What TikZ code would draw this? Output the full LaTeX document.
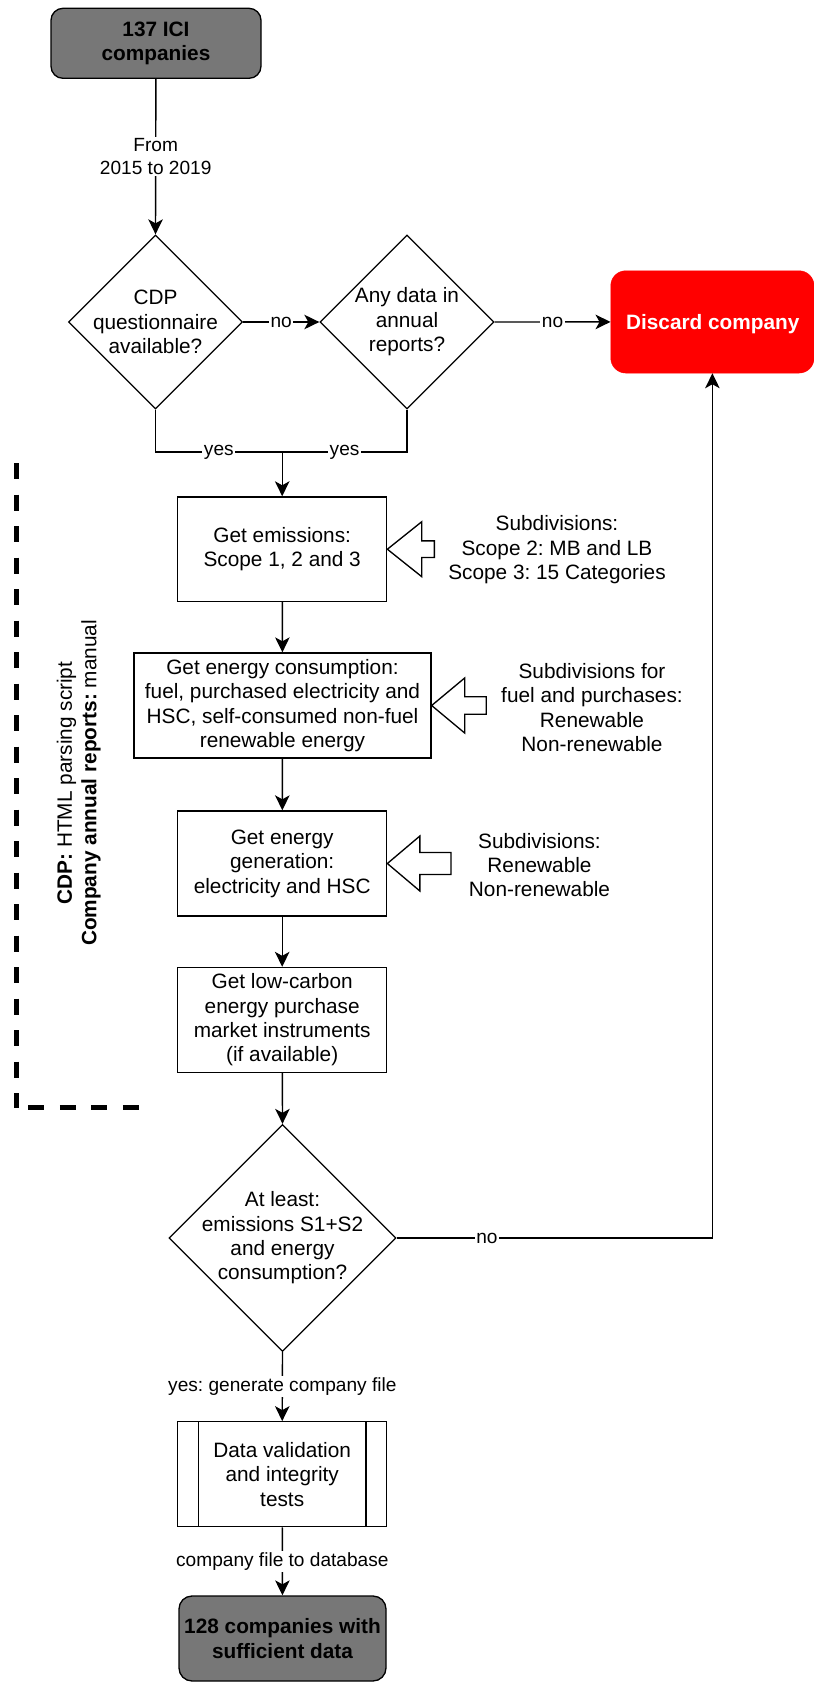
\documentclass[tikz,border=0pt]{standalone}
\usepackage{fontspec}
\setmainfont{Liberation Sans}
\usetikzlibrary{shapes.geometric,arrows.meta,calc}

\definecolor{termgray}{HTML}{777777}
\definecolor{discardred}{HTML}{FF0000}

\newcommand{\boxfont}{\fontsize{20.8pt}{24.4pt}\selectfont}
\newcommand{\edgefont}{\fontsize{19.1pt}{22.6pt}\selectfont}
\frenchspacing

% hollow block arrow pointing left at #1; #2 head length, #3 shaft length, #4 half shaft height
\newcommand{\hollowarrow}[4]{%
  \draw[hollow] (#1) -- ++(#2,-27.5) -- ++(0,{27.5-#4}) -- ++(#3,0)
    -- ++(0,{2*#4}) -- ++(-#3,0) -- ++(0,{27.5-#4}) -- cycle;}

\begin{document}
\begin{tikzpicture}[x=1pt,y=-1pt,
  every node/.style={font=\boxfont},
  line/.style={line width=1.4pt},
  flow/.style={line, -{Stealth[length=15pt,width=14.5pt,inset=4pt]}},
  process/.style={draw, line width=1.33pt, rectangle, minimum width=209pt,
    minimum height=104.5pt, inner sep=2pt, align=center},
  decision/.style={draw, line width=1.33pt, diamond, minimum width=174pt,
    minimum height=174pt, inner sep=0pt},
  terminal/.style={draw, line width=1.33pt, fill=termgray, rounded corners=12pt,
    font=\boxfont\bfseries, align=center, inner sep=0pt},
  edgelabel/.style={fill=white, font=\edgefont, inner sep=1.5pt, align=center},
  note/.style={align=center},
  hollow/.style={draw, line width=1.33pt, fill=white, line join=miter},
  bracket/.style={line width=4.5pt, dash pattern=on 16pt off 15.5pt}
]
\useasboundingbox (0,0) rectangle (814,1682);

% start and end terminals
\node[terminal, minimum width=210pt, minimum height=70pt] (start) at (156,43.3)
  {137 ICI\\companies};
\node[terminal, rounded corners=13pt, minimum width=207pt, minimum height=85pt] (final)
  at (282.5,1638.5) {128 companies with\\sufficient data};

% source decisions
\node[decision, label={[align=center]center:{CDP\\questionnaire\\available?}}]
  (cdp) at (155.5,322) {};
\node[decision, label={[align=center]center:{Any data in\\annual\\reports?}}]
  (annual) at (407,322) {};

% discard
\node[draw=discardred, fill=discardred, rounded corners=15pt, text=white,
  font=\boxfont\bfseries, minimum width=203.3pt, minimum height=102.3pt, inner sep=0pt]
  (discard) at (712.4,321.9) {};
\node[text=white, font=\boxfont\bfseries] (discardtext) at (712.8,324) {Discard company};

% extraction steps
\node[process] (emis) at (282.2,549.2) {Get emissions:\\Scope 1, 2 and 3};
\node[process, minimum width=297pt, minimum height=105pt] (cons) at (282.5,705.5)
  {Get energy consumption:\\fuel, purchased electricity and\\HSC, self-consumed non-fuel\\renewable energy};
\node[process, minimum height=105pt] (gen) at (282.2,863.5)
  {Get energy\\generation:\\electricity and HSC};
\node[process, minimum height=105pt] (instr) at (282.2,1020)
  {Get low-carbon\\energy purchase\\market instruments\\(if available)};

% sufficiency check
\node[decision, minimum width=227pt, minimum height=227pt,
  label={[align=center]center:{At least:\\emissions S1+S2\\and energy\\consumption?}}]
  (check) at (282.5,1238) {};

% validation (predefined process)
\node[process, minimum height=105pt] (valid) at (282.2,1474.3)
  {Data validation\\and integrity\\tests};
\draw[line] ([xshift=21.3pt]valid.north west) -- ([xshift=21.3pt]valid.south west);
\draw[line] ([xshift=-21.3pt]valid.north east) -- ([xshift=-21.3pt]valid.south east);

% subdivision notes with hollow arrows
\node[note] (sub1) at (557,550) {Subdivisions:\\Scope 2: MB and LB\\Scope 3: 15 Categories};
\node[note] (sub2) at (592,707.5) {Subdivisions for\\fuel and purchases:\\Renewable\\Non-renewable};
\node[note] (sub3) at (539.5,865) {Subdivisions:\\Renewable\\Non-renewable};
\hollowarrow{emis.east}{34.4}{12.6}{8.3}
\hollowarrow{cons.east}{33}{21.5}{8.8}
\hollowarrow{gen.east}{32.5}{31.2}{11}

% method bracket
\coordinate (brTop) at (16.5,463);
\coordinate (brCorner) at (16.5,1107.5);
\coordinate (brFoot) at (28.3,1107.5);
\coordinate (brEnd) at (138.5,1107.5);
\draw[bracket] (brTop) -- (brCorner);
\draw[bracket] (brFoot) -- (brEnd);
\node[rotate=90, align=center] (method) at (78.7,783)
  {\textbf{CDP:} HTML parsing script\\\textbf{Company annual reports:} manual};

% connectors
\draw[flow] (start) -- (cdp.north) node[edgelabel, midway] {From\\2015 to 2019};
\draw[flow] (cdp.east) -- (annual.west) node[edgelabel, midway] {no};
\draw[flow] (annual.east) -- (discard.west) node[edgelabel, midway] {no};
\coordinate (join) at ($(emis.north)+(0,-44.3)$);
\draw[line] (cdp.south) |- (join) node[edgelabel, pos=0.75] {yes};
\draw[line] (annual.south) |- (join) node[edgelabel, pos=0.75] {yes};
\draw[flow] (join) -- (emis.north);
\draw[flow] (emis) -- (cons);
\draw[flow] (cons) -- (gen);
\draw[flow] (gen) -- (instr);
\draw[flow] (instr) -- (check.north);
\draw[flow] (check.east) -| (discard.south) node[edgelabel, pos=0.143] {no};
\draw[flow] (check.south) -- (valid.north) node[edgelabel, midway] {yes: generate company file};
\draw[flow] (valid) -- (final) node[edgelabel, midway] {company file to database};
\end{tikzpicture}
\end{document}
